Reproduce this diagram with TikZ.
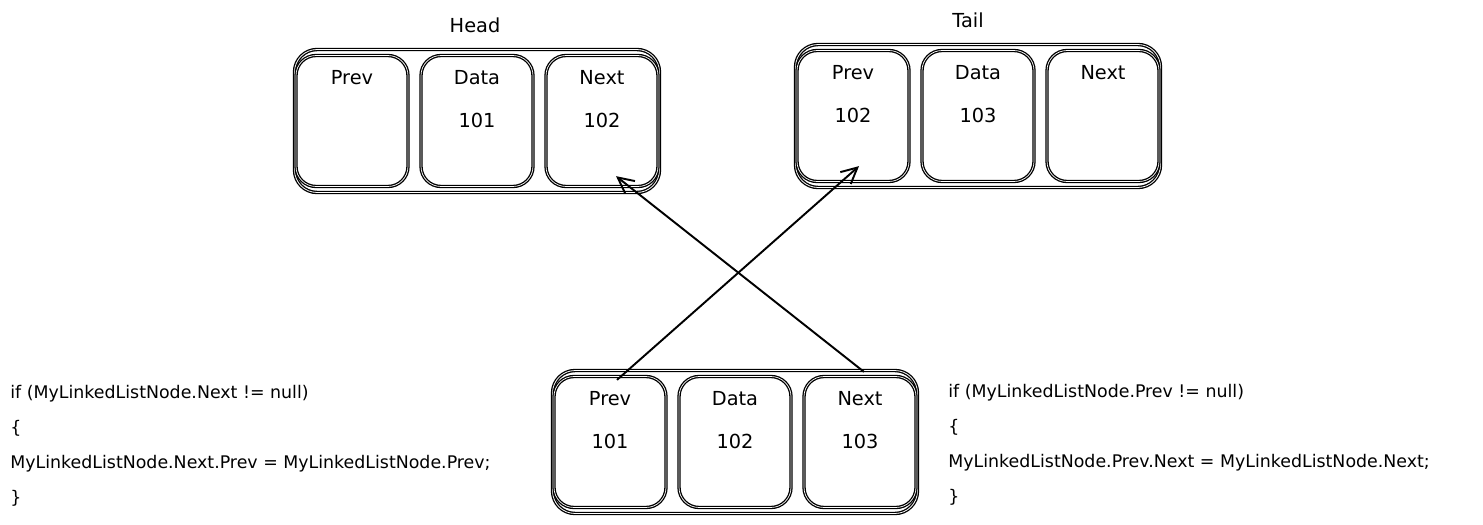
\documentclass[tikz,border=0pt]{standalone}
\usepackage{fontspec}
\setmainfont{DejaVu Sans}
\newcommand{\rec}[6]{
\node[outerbox] (#1) at (#2,#3) {};
\node[cellbox] (#1prev) at (#2-125,#3) {};
\node[cellbox] (#1data) at (#2,#3) {};
\node[cellbox] (#1next) at (#2+125,#3) {};
\node[celltxt] (#1prevt) at ([yshift=-0.46cm]#1prev.north) {Prev};
\node[celltxt] (#1datat) at ([yshift=-0.46cm]#1data.north) {Data};
\node[celltxt] (#1nextt) at ([yshift=-0.46cm]#1next.north) {Next};
\node[celltxt] (#1prevv) at ([yshift=-1.32cm]#1prev.north) {#4};
\node[celltxt] (#1datav) at ([yshift=-1.32cm]#1data.north) {#5};
\node[celltxt] (#1nextv) at ([yshift=-1.32cm]#1next.north) {#6};
}
\usepackage{tikz}
\usetikzlibrary{arrows.meta,calc}
\tikzset{
outerbox/.style={draw, double, double distance=0.45pt, line width=0.75pt, rounded corners=0.45cm, minimum width=7.3cm, minimum height=2.86cm},
cellbox/.style={draw, double, double distance=0.4pt, line width=0.75pt, rounded corners=0.4cm, minimum width=2.24cm, minimum height=2.62cm},
celltxt/.style={font=\fontsize{11pt}{13pt}\selectfont, inner sep=1pt},
code/.style={font=\fontsize{9.9pt}{19.84pt}\selectfont, align=left, anchor=north west, inner sep=0pt},
link/.style={line width=1.1pt, -{Straight Barb[length=9pt,width=9pt]}}
}
\begin{document}
\begin{tikzpicture}[x=0.02cm,y=-0.02cm]
\useasboundingbox (0,0) rectangle (1483,524);

\rec{h}{477}{121}{}{101}{102}
\rec{t}{978}{116}{102}{103}{}
\rec{b}{735}{442}{101}{102}{103}

\node[celltxt] (headlbl) at (475,25) {Head};
\node[celltxt] (taillbl) at (968,20) {Tail};

\draw[link] ($(bprev.north)+(7,4)$) -- ($(tprev.south)+(6,-16)$);
\draw[link] ($(bnext.north)+(4,-4)$) -- ($(hnext.south)+(14,-11)$);

\node[code] (leftcode) at (10,385) {if (MyLinkedListNode.Next != null)\\ \{\\ MyLinkedListNode.Next.Prev = MyLinkedListNode.Prev;\\ \}};
\node[code] (rightcode) at (948,384) {if (MyLinkedListNode.Prev != null)\\ \{\\ MyLinkedListNode.Prev.Next = MyLinkedListNode.Next;\\ \}};

\end{tikzpicture}
\end{document}
